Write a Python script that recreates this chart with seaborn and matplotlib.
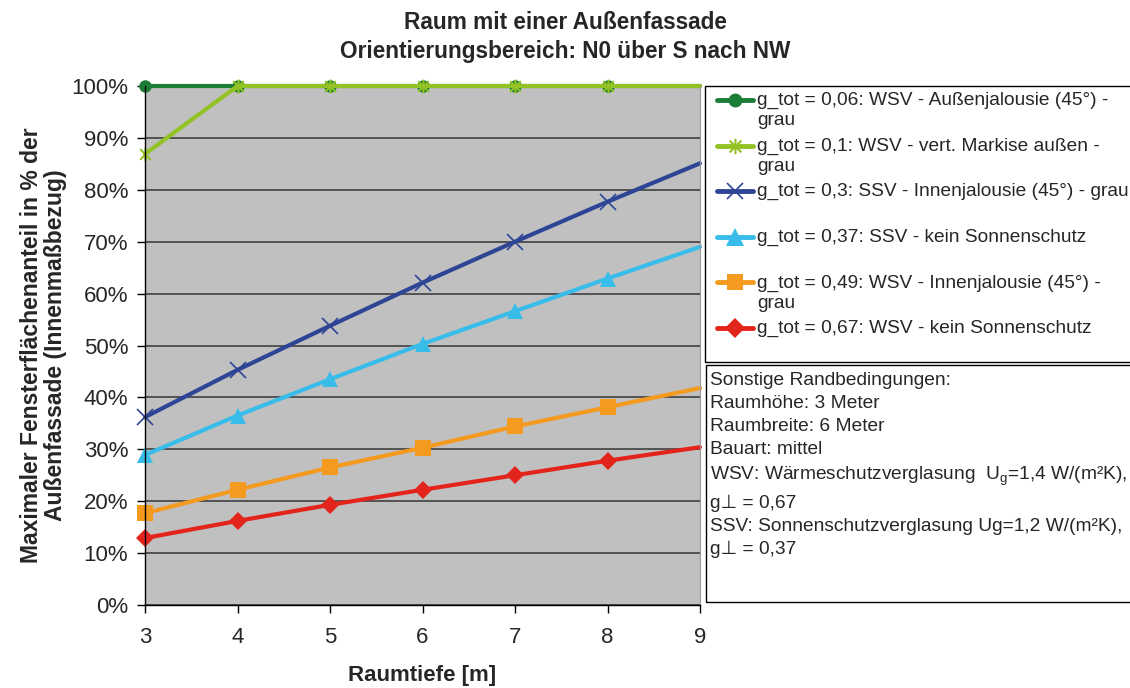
import matplotlib.pyplot as plt
import seaborn as sns
from matplotlib.lines import Line2D
from matplotlib.patches import Rectangle
from matplotlib.path import Path

# Raumtiefe [m] und maximaler Fensterflächenanteil [%]
raumtiefe = [3, 4, 5, 6, 7, 8, 9]
g_006 = [100, 100, 100, 100, 100, 100, 100]
g_010 = [86.9, 100, 100, 100, 100, 100, 100]
g_030 = [36.2, 45.3, 53.8, 62.1, 70.0, 77.7, 85.1]
g_037 = [28.9, 36.5, 43.5, 50.3, 56.6, 62.9, 69.0]
g_049 = [17.7, 22.2, 26.5, 30.3, 34.4, 38.1, 41.8]
g_067 = [12.9, 16.2, 19.3, 22.2, 25.0, 27.8, 30.4]

series_labels = [
    "g_tot = 0,06: WSV - Außenjalousie (45°) -\ngrau",
    "g_tot = 0,1: WSV - vert. Markise außen -\ngrau",
    "g_tot = 0,3: SSV - Innenjalousie (45°) - grau",
    "g_tot = 0,37: SSV - kein Sonnenschutz",
    "g_tot = 0,49: WSV - Innenjalousie (45°) -\ngrau",
    "g_tot = 0,67: WSV - kein Sonnenschutz",
]
y_ticks = list(range(0, 101, 10))
rand_text = [
    "Sonstige Randbedingungen:",
    "Raumhöhe: 3 Meter",
    "Raumbreite: 6 Meter",
    "Bauart: mittel",
    "WSV: Wärmeschutzverglasung  U$_\\mathregular{g}$=1,4 W/(m²K),",
    "g⊥ = 0,67",
    "SSV: Sonnenschutzverglasung Ug=1,2 W/(m²K),",
    "g⊥ = 0,37",
]

# Excel-Stern: X mit senkrechtem Strich
star = Path([(-1, -1), (1, 1), (-1, 1), (1, -1), (0, -1.3), (0, 1.3)],
            [Path.MOVETO, Path.LINETO, Path.MOVETO, Path.LINETO, Path.MOVETO, Path.LINETO])

series = [g_006, g_010, g_030, g_037, g_049, g_067]
styles = [
    dict(color="#1B7D35", marker="o", markersize=9, mew=0),
    dict(color="#93C225", marker=star, markersize=10, mew=1.5),
    dict(color="#2E4596", marker="x", markersize=11, mew=1.2),
    dict(color="#38BDEB", marker="^", markersize=12, mew=0),
    dict(color="#F39A1F", marker="s", markersize=11, mew=0),
    dict(color="#E3241B", marker="D", markersize=9, mew=0),
]

sns.set_style("white")
plt.rcParams["font.family"] = ["Liberation Sans", "DejaVu Sans"]

W, H = 1130, 688
fig, ax = plt.subplots(figsize=(W / 100, H / 100), dpi=100)
fig.subplots_adjust(left=145 / W, right=700 / W, bottom=1 - 605 / H, top=1 - 86 / H)

for vals, st in zip(series, styles):
    sns.lineplot(x=raumtiefe, y=vals, ax=ax, color=st["color"], linewidth=3,
                 marker=st["marker"], markersize=st["markersize"],
                 markeredgewidth=st["mew"], markeredgecolor=st["color"],
                 markevery=list(range(6)), clip_on=False, legend=False)

ax.set_facecolor("#C0C0C0")
ax.set_xlim(3, 9)
ax.set_ylim(0, 100)
ax.set_xticks(raumtiefe)
ax.set_yticks(y_ticks)
ax.set_yticklabels([f"{v}%" for v in y_ticks])
ax.yaxis.grid(True, color="#404040", linewidth=1.2)
ax.set_axisbelow(True)
for s in ["left", "bottom"]:
    ax.spines[s].set_color("black")
    ax.spines[s].set_linewidth(1)
ax.spines["top"].set_visible(False)
ax.spines["right"].set_color("#999999")
ax.tick_params(axis="both", which="major", labelsize=16, length=6,
               width=1, color="black", direction="out", left=True, bottom=True)
ax.tick_params(axis="x", pad=10)
ax.tick_params(axis="y", pad=6)

ax.set_xlabel("Raumtiefe [m]", fontsize=16, fontweight="bold", labelpad=12)
ax.set_ylabel("Maximaler Fensterflächenanteil in % der\nAußenfassade (Innenmaßbezug)",
              fontsize=16.5, fontweight="bold", labelpad=3, linespacing=1.05)
fig.suptitle("Raum mit einer Außenfassade\nOrientierungsbereich: N0 über S nach NW",
             x=0.5, y=1 - 11 / H, va="top", fontsize=16.3, fontweight="bold",
             linespacing=1.32)


def fx(x):
    return x / W


def fy(y):
    return 1 - y / H


# Legendenkasten
fig.add_artist(Rectangle((fx(705), fy(362)), fx(440), (362 - 86) / H,
                         transform=fig.transFigure, fill=False,
                         edgecolor="black", linewidth=1))
for i, (lab, st) in enumerate(zip(series_labels, styles)):
    y = 100 + i * 45.6
    fig.add_artist(Line2D([fx(717), fx(735), fx(753)], [fy(y)] * 3,
                          transform=fig.transFigure, color=st["color"], linewidth=3.5,
                          marker=st["marker"], markersize=st["markersize"] + 1,
                          markeredgewidth=st["mew"], markeredgecolor=st["color"],
                          markevery=[1]))
    fig.text(fx(757), fy(y - 8), lab, fontsize=13.8, va="top", ha="left",
             linespacing=1.25)

# Randbedingungen
fig.add_artist(Rectangle((fx(706), fy(602)), fx(440), (602 - 365) / H,
                         transform=fig.transFigure, fill=False,
                         edgecolor="black", linewidth=1))
fig.text(fx(710), fy(372), "\n".join(rand_text), fontsize=13.8, va="top",
         ha="left", linespacing=1.46)

fig.savefig("out.png", dpi=100)
